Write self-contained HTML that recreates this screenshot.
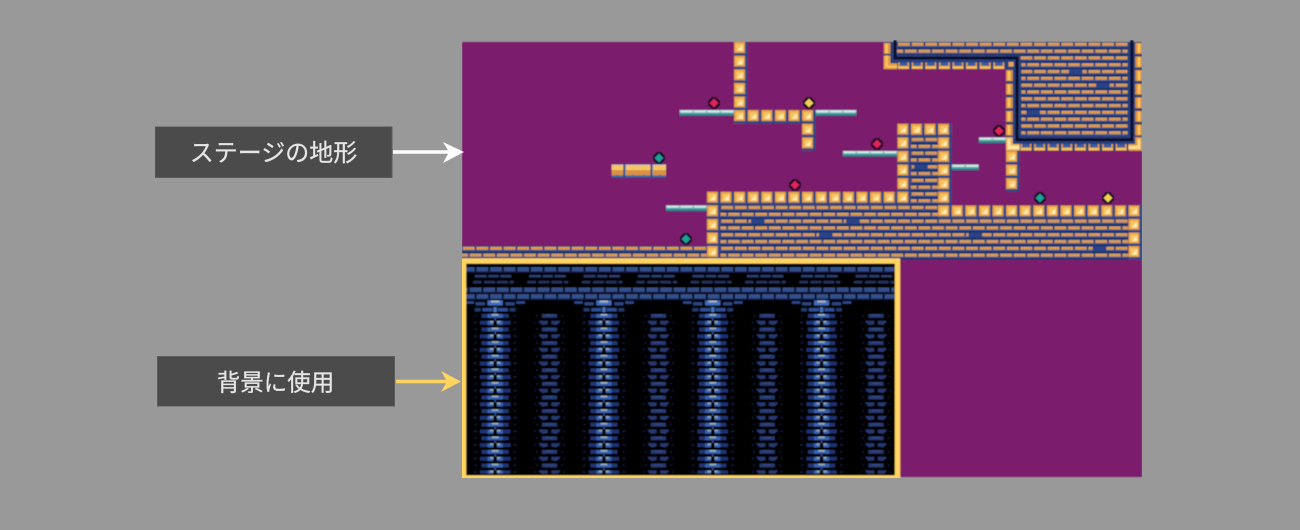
<!DOCTYPE html>
<html lang="ja">
<head>
<meta charset="utf-8">
<title>ステージの地形</title>
<style>
html,body{margin:0;padding:0;width:1300px;height:530px;overflow:hidden;background:#999}
svg{display:block}
</style>
</head>
<body>
<svg xmlns="http://www.w3.org/2000/svg" width="1300" height="530" viewBox="0 0 1300 530">
<defs>
<filter id="soft" x="0" y="0" width="100%" height="100%"><feGaussianBlur stdDeviation="0.4"/></filter>
<filter id="softer" x="0" y="0" width="100%" height="100%"><feGaussianBlur stdDeviation="0.3"/></filter>
<pattern id="brick" patternUnits="userSpaceOnUse" width="16" height="16">
  <rect width="16" height="16" fill="#26397a"/>
  <rect x="1" y="1" width="14" height="1" fill="#f8c468"/>
  <rect x="1" y="2" width="14" height="2.500" fill="#e8983f"/>
  <rect x="0" y="4.500" width="16" height="1.500" fill="#3f62aa"/>
  <rect x="0" y="6" width="16" height="2" fill="#1f2f68"/>
  <rect x="9" y="9" width="7" height="1" fill="#f8c468"/><rect x="0" y="9" width="7" height="1" fill="#f8c468"/>
  <rect x="9" y="10" width="7" height="2.500" fill="#e8983f"/><rect x="0" y="10" width="7" height="2.500" fill="#e8983f"/>
  <rect x="0" y="12.500" width="16" height="1.500" fill="#3f62aa"/>
  <rect x="0" y="14" width="16" height="2" fill="#1f2f68"/>
</pattern>
<pattern id="block" patternUnits="userSpaceOnUse" width="16" height="16">
  <rect width="16" height="16" fill="#26407f"/>
  <rect x="13" width="1" height="14" fill="#3f5fa8"/>
  <rect y="13" width="14" height="1" fill="#3f5fa8"/>
  <rect width="13" height="13" fill="#dc8f3c"/>
  <rect x="1" y="1" width="11" height="11" fill="#efae50"/>
  <rect x="3" y="3" width="8" height="8" fill="#f8c765"/>
  <polygon points="4,10 10,4 10,10" fill="#fff0c0"/>
</pattern>
<pattern id="ledgeB" patternUnits="userSpaceOnUse" width="16" height="16">
  <rect width="16" height="16" fill="#26407f"/>
  <rect x="1" y="8" width="13" height="8" fill="#e69c42"/>
  <rect x="3" y="8" width="9" height="4" fill="#3a5aa0"/>
  <rect x="1" y="13" width="13" height="2" fill="#f8c765"/>
</pattern>
<pattern id="ledgeL" patternUnits="userSpaceOnUse" width="16" height="16">
  <rect width="16" height="16" fill="#26407f"/>
  <rect x="0" y="1" width="8" height="13" fill="#e0933c"/>
  <rect x="2" y="2" width="3" height="11" fill="#f8c765"/>
</pattern>
<pattern id="ledgeR" patternUnits="userSpaceOnUse" width="16" height="16">
  <rect width="16" height="16" fill="#26407f"/>
  <rect x="8" y="1" width="8" height="13" fill="#e0933c"/>
  <rect x="11" y="2" width="3" height="11" fill="#f8c765"/>
</pattern>
<pattern id="thin" patternUnits="userSpaceOnUse" width="16" height="16">
  <rect y="0" width="16" height="1" fill="#b8e4dc"/>
  <rect x="1" y="1" width="14" height="2" fill="#dcf3ec"/>
  <rect x="0" y="1" width="1" height="2" fill="#8fd4cc"/>
  <rect x="15" y="1" width="1" height="2" fill="#8fd4cc"/>
  <rect y="3" width="16" height="2" fill="#4fb4b0"/>
  <rect y="5" width="16" height="2" fill="#1c8088"/>
</pattern>
<pattern id="float" patternUnits="userSpaceOnUse" width="32" height="16">
  <rect width="32" height="16" fill="#33508f"/>
  <rect x="0" y="0" width="30" height="1" fill="#c4cfe0"/>
  <rect x="0" y="0" width="1" height="14" fill="#a8b8d8"/>
  <rect x="1" y="1" width="29" height="6" fill="#f8c463"/>
  <rect x="1" y="7" width="29" height="6" fill="#dc913f"/>
  <rect x="8" y="12" width="2" height="1" fill="#4a6bb0"/>
  <rect x="21" y="12" width="2" height="1" fill="#4a6bb0"/>
  <rect x="0" y="13" width="30" height="2" fill="#4a6bb0"/>
  <rect x="0" y="15" width="31" height="1" fill="#2b4688"/>
  <rect x="30" width="2" height="16" fill="#2b4688"/>
</pattern>
<pattern id="bgfull1" patternUnits="userSpaceOnUse" width="16" height="8">
  <rect x="1" y="1" width="14" height="1" fill="#4c6fb0"/>
  <rect x="1" y="2" width="14" height="4" fill="#31508f"/>
  <rect x="0" y="6" width="16" height="1.500" fill="#141f48"/>
</pattern>
<pattern id="bgfull2" patternUnits="userSpaceOnUse" width="16" height="8">
  <rect x="9" y="1" width="14" height="1" fill="#4c6fb0"/>
  <rect x="-7" y="1" width="14" height="1" fill="#4c6fb0"/>
  <rect x="9" y="2" width="14" height="4" fill="#31508f"/>
  <rect x="-7" y="2" width="14" height="4" fill="#31508f"/>
  <rect x="0" y="6" width="16" height="1.500" fill="#141f48"/>
</pattern>
<pattern id="bgsparse1" patternUnits="userSpaceOnUse" width="64" height="8">
  <rect x="15" y="2" width="14" height="3" fill="#2a3f70"/>
  <rect x="31" y="2" width="12" height="3" fill="#2a3f70"/>
  <rect x="45" y="2" width="13" height="3" fill="#2a3f70"/>
</pattern>
<pattern id="bgsparse2" patternUnits="userSpaceOnUse" width="64" height="8">
  <rect x="13" y="1" width="10" height="3" fill="#233662"/>
  <rect x="26" y="1" width="13" height="3" fill="#233662"/>
  <rect x="41" y="1" width="13" height="3" fill="#233662"/>
  <rect x="56" y="1" width="5" height="3" fill="#233662"/>
</pattern>
<pattern id="bigcol" patternUnits="userSpaceOnUse" width="128" height="16">
  <rect x="23" y="0" width="32" height="4.500" fill="#203672"/>
  <rect x="30" y="0" width="18" height="4.500" fill="#3562b2"/>
  <rect x="35" y="0" width="8" height="2" fill="#a4b0bc"/>
  <rect x="15" y="1" width="2" height="2" fill="#14204a"/>
  <rect x="61" y="1" width="2" height="2" fill="#14204a"/>
  <rect x="21" y="8" width="14" height="4.500" fill="#1e3370"/>
  <rect x="43" y="8" width="14" height="4.500" fill="#1e3370"/>
  <rect x="30" y="8" width="7" height="5" fill="#3562b2"/>
  <rect x="41" y="8" width="7" height="5" fill="#3562b2"/>
  <rect x="33" y="8" width="4" height="2.500" fill="#8ea2c0"/>
  <rect x="41" y="8" width="4" height="2.500" fill="#8ea2c0"/>
  <rect x="38" y="5" width="2" height="3" fill="#2c4f98"/>
  <rect x="14" y="9" width="3" height="2" fill="#16224c"/>
  <rect x="61" y="9" width="3" height="2" fill="#16224c"/>
</pattern>
<pattern id="smallcol" patternUnits="userSpaceOnUse" width="128" height="16">
  <rect x="94" y="0" width="18" height="4.500" fill="#27396f"/>
  <rect x="98" y="0.500" width="10" height="1.500" fill="#344a86"/>
  <rect x="87" y="1" width="2" height="2" fill="#131d42"/>
  <rect x="117" y="1" width="2" height="2" fill="#131d42"/>
  <polygon points="90,8 101,8 101,12 95,13 92,11" fill="#27396f"/>
  <polygon points="105,8 116,8 114,11 111,13 105,12" fill="#27396f"/>
  <rect x="85" y="9" width="2" height="2" fill="#131d42"/>
  <rect x="119" y="9" width="2" height="2" fill="#131d42"/>
</pattern>
<pattern id="cap1" patternUnits="userSpaceOnUse" width="128" height="8">
  <rect x="4" y="1" width="10" height="3" fill="#2f4a8c"/>
  <rect x="16" y="2" width="11" height="4" fill="#2c4680"/>
  <rect x="30" y="0" width="18" height="6" fill="#3f6cc0"/>
  <rect x="34" y="0" width="10" height="2.500" fill="#a8b4c4"/>
  <rect x="51" y="2" width="11" height="4" fill="#2c4680"/>
  <rect x="64" y="1" width="10" height="3" fill="#2f4a8c"/>
</pattern>
<pattern id="cap2" patternUnits="userSpaceOnUse" width="128" height="8">
  <rect x="15" y="1" width="7" height="4" fill="#233a70"/>
  <rect x="24" y="1" width="12" height="4" fill="#2f4f98"/>
  <rect x="42" y="1" width="12" height="4" fill="#2f4f98"/>
  <rect x="56" y="1" width="7" height="4" fill="#233a70"/>
  <rect x="37" y="0" width="4" height="6" fill="#4474c4"/>
</pattern>
<g id="gemR"><polygon points="-2,-6 2,-6 6,-2 6,2 2,6 -2,6 -6,2 -6,-2" fill="#170a22"/><polygon points="0,-4.500 4.500,0 0,4.500 -4.500,0" fill="#e0245e"/></g>
<g id="gemT"><polygon points="-2,-6 2,-6 6,-2 6,2 2,6 -2,6 -6,2 -6,-2" fill="#170a22"/><polygon points="0,-4.500 4.500,0 0,4.500 -4.500,0" fill="#1fa09a"/></g>
<g id="gemY"><polygon points="-2,-6 2,-6 6,-2 6,2 2,6 -2,6 -6,2 -6,-2" fill="#170a22"/><polygon points="0,-4.500 4.500,0 0,4.500 -4.500,0" fill="#f3cf55"/></g>
</defs>

<rect width="1300" height="530" fill="#999"/>

<g filter="url(#soft)">
<rect x="462" y="42" width="680" height="435" fill="#7c1f6c"/>

<g transform="translate(462,42) scale(.85)">
  <!-- bricks -->
  <rect x="0" y="240" width="288" height="16" fill="url(#brick)"/>
  <rect x="304" y="192" width="256" height="64" fill="url(#brick)"/>
  <rect x="528" y="112" width="32" height="80" fill="url(#brick)"/>
  <rect x="560" y="208" width="224" height="48" fill="url(#brick)"/>
  <rect x="506" y="0" width="278" height="19" fill="url(#brick)"/>
  <rect x="656" y="16" width="128" height="96" fill="url(#brick)"/>

  <!-- ledges -->
  <rect x="512" y="16" width="128" height="16" fill="url(#ledgeB)"/>
  <rect x="496" y="0" width="16" height="16" fill="url(#ledgeL)"/>
  <rect x="640" y="32" width="16" height="80" fill="url(#ledgeL)"/>
  <rect x="784" y="0" width="16" height="112" fill="url(#ledgeR)"/>
  <rect x="640" y="112" width="160" height="16" fill="url(#ledgeB)"/>
  <rect x="496" y="16" width="16" height="16" fill="#26407f"/>
  <path d="M496,16 h8 v9 h8 v7 h-16 z" fill="#e69c42"/>
  <path d="M498,16 h3 v12 h11 v2 h-14 z" fill="#f8c765"/>
  <rect x="640" y="16" width="16" height="16" fill="#26407f"/>
  <rect x="643" y="23" width="6" height="6" fill="#e9a44b"/>
  <path d="M640,112 h8 v8 h8 v8 h-16 z" fill="#f0b65c"/>
  <path d="M642,114 h3 v8 h11 v4 h-14 z" fill="#ffe6a4"/>
  <path d="M792,112 h8 v16 h-16 v-8 h8 z" fill="#e69c42"/>
  <path d="M795,114 h3 v12 h-14 v-4 h11 z" fill="#ffdf90"/>

  <!-- inner shading and black frame -->
  <path d="M656,20 V112 H785 V0" fill="none" stroke="#26407f" stroke-width="4"/>
  <path d="M510,21 H654" fill="none" stroke="#26407f" stroke-width="5"/>
  <path d="M509.500,-2 V18.800 H653 V115 H788 V-2" fill="none" stroke="#0a0c26" stroke-width="3.400"/>

  <!-- blocks -->
  <rect x="320" y="0" width="16" height="96" fill="url(#block)"/>
  <rect x="320" y="80" width="96" height="16" fill="url(#block)"/>
  <rect x="400" y="96" width="16" height="32" fill="url(#block)"/>
  <rect x="512" y="96" width="64" height="16" fill="url(#block)"/>
  <rect x="512" y="96" width="16" height="96" fill="url(#block)"/>
  <rect x="560" y="96" width="16" height="112" fill="url(#block)"/>
  <rect x="288" y="176" width="240" height="16" fill="url(#block)"/>
  <rect x="288" y="176" width="16" height="80" fill="url(#block)"/>
  <rect x="560" y="192" width="240" height="16" fill="url(#block)"/>
  <rect x="784" y="192" width="16" height="64" fill="url(#block)"/>
  <rect x="640" y="128" width="16" height="48" fill="url(#block)"/>

  <!-- wall patches -->
  <g fill="#2a4288">
    <rect x="340" y="208" width="16" height="6"/><rect x="452" y="208" width="16" height="6"/>
    <rect x="420" y="224" width="16" height="6"/><rect x="532" y="144" width="16" height="6"/>
    <rect x="714" y="32" width="16" height="6"/><rect x="746" y="48" width="16" height="6"/>
    <rect x="664" y="80" width="16" height="6"/><rect x="596" y="224" width="16" height="6"/>
    <rect x="742" y="240" width="16" height="6"/>
  </g>

  <!-- thin platforms -->
  <rect x="256" y="80" width="64" height="7" fill="url(#thin)"/>
  <rect x="416" y="80" width="48" height="7" fill="url(#thin)"/>
  <rect x="448" y="128" width="64" height="7" fill="url(#thin)"/>
  <rect x="576" y="144" width="32" height="7" fill="url(#thin)"/>
  <rect x="608" y="112" width="32" height="7" fill="url(#thin)"/>
  <rect x="240" y="192" width="48" height="7" fill="url(#thin)"/>

  <!-- floating -->
  <rect x="176" y="144" width="64" height="16" fill="url(#float)"/>
</g>

<!-- gems -->
<g>
  <use href="#gemR" x="714" y="103"/>
  <use href="#gemY" x="809" y="103"/>
  <use href="#gemR" x="877" y="144"/>
  <use href="#gemR" x="999" y="131"/>
  <use href="#gemT" x="659" y="158"/>
  <use href="#gemR" x="795" y="185"/>
  <use href="#gemT" x="1040" y="198"/>
  <use href="#gemY" x="1108" y="198"/>
  <use href="#gemT" x="686" y="239"/>
</g>

<!-- background image -->
<rect x="463" y="260" width="435" height="218" fill="#000"/>
<g transform="translate(462,42) scale(.85)">
  <rect x="4" y="264" width="505" height="8" fill="url(#bgfull1)"/>
  <rect x="4" y="272" width="505" height="8" fill="url(#bgsparse1)"/>
  <rect x="4" y="280" width="505" height="8" fill="url(#bgsparse2)"/>
  <rect x="4" y="288" width="505" height="8" fill="url(#bgfull2)"/>
  <rect x="4" y="296" width="505" height="8" fill="url(#bgfull1)"/>
  <rect x="4" y="304" width="505" height="8" fill="url(#cap1)"/>
  <rect x="4" y="312" width="505" height="8" fill="url(#cap2)"/>
  <rect x="4" y="320" width="505" height="188" fill="url(#bigcol)"/>
  <rect x="4" y="320" width="505" height="188" fill="url(#smallcol)"/>
</g>
<rect x="463.500" y="261" width="434" height="217" fill="none" stroke="#ffd460" stroke-width="5.500"/>
</g>

<g filter="url(#softer)">
<!-- labels -->
<rect x="155" y="126.500" width="237" height="51" fill="#4b4b4b" stroke="#5c5c5c" stroke-width="1"/>
<text x="273.500" y="161" text-anchor="middle" font-family="'Liberation Sans','Noto Sans CJK JP',sans-serif" font-size="24" fill="#e6e6e6" stroke="#e6e6e6" stroke-width="0.250">ステージの地形</text>
<rect x="157.500" y="356.500" width="237" height="50" fill="#4b4b4b" stroke="#5c5c5c" stroke-width="1"/>
<text x="275.500" y="390.500" text-anchor="middle" font-family="'Liberation Sans','Noto Sans CJK JP',sans-serif" font-size="23.500" fill="#e6e6e6" stroke="#e6e6e6" stroke-width="0.250">背景に使用</text>

<!-- arrows -->
<path d="M393,152 H454" stroke="#fff" stroke-width="3.500" fill="none"/>
<path d="M443,142 L464,152 L443,163 L449,152 Z" fill="#fff"/>
<path d="M396,381.500 H452" stroke="#ffd460" stroke-width="3.500" fill="none"/>
<path d="M441,371 L461,381.500 L441,392 L447,381.500 Z" fill="#ffd460"/>
</g>
</svg>
</body>
</html>
